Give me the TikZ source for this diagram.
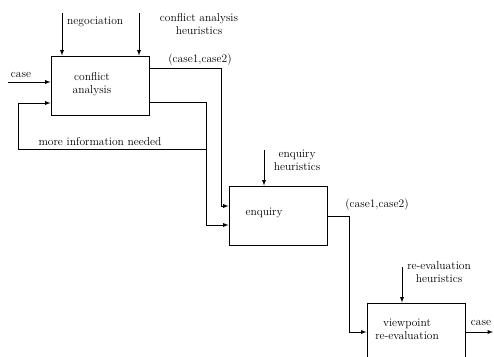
\documentclass[tikz,border=0pt]{standalone}
\usetikzlibrary{arrows}
\begin{document}
\begin{tikzpicture}[x=1pt,y=-1pt,>=latex]
\tikzstyle{every node}=[font=\fontsize{11.5}{13}\selectfont, inner sep=0pt, align=center]
\tikzstyle{proc}=[draw, line width=1pt, minimum width=98pt, minimum height=59pt]
\tikzstyle{flow}=[line width=.9pt, ->]
\useasboundingbox (0,0) rectangle (494,356);
% boxes
\draw (100,85.5) node (ca) [proc] {};
\draw (278,215.5) node (en) [proc] {};
\draw (416,332.5) node (re) [proc] {};
\draw (92,84) node (catxt) {conflict\\analysis};
\draw (264,213) node (entxt) {enquiry};
\draw (407,329) node (retxt) {viewpoint\\re-evaluation};
% corners
\coordinate (neg) at (62,13);
\coordinate (cah) at (139,13);
\coordinate (cin) at (8,82);
\coordinate (c1) at (221,68);
\coordinate (c2) at (221,206);
\coordinate (d1) at (206,102);
\coordinate (d2) at (206,225);
\coordinate (f1) at (206,149);
\coordinate (f2) at (18,149);
\coordinate (f3) at (18,103);
\coordinate (eh) at (264,150);
\coordinate (g1) at (349,216);
\coordinate (g2) at (349,332);
\coordinate (rh) at (402,267);
\coordinate (rout) at (493,332);
% conflict analysis
\draw[flow] (neg) -- (neg |- ca.north);
\draw[flow] (cah) -- (cah |- ca.north);
\draw[flow] (cin) -- (cin -| ca.west);
\draw (67,22) node (neglbl) [anchor=west] {negociation};
\draw (199,24) node (cahlbl) {conflict analysis\\heuristics};
\draw (21,75) node (cinlbl) {case};
\draw[flow] (ca.east |- c1) -- (c1) -- (c2) -- (c2 -| en.west);
\draw (200,60) node (o1lbl) {(case1,case2)};
\draw[flow] (ca.east |- d1) -- (d1) -- (d2) -- (d2 -| en.west);
\draw[flow] (f1) -- (f2) -- (f3) -- (f3 -| ca.west);
\draw (100,142) node (fblbl) {more information needed};
% enquiry
\draw[flow] (eh) -- (eh |- en.north);
\draw (297,160.5) node (ehlbl) {enquiry\\heuristics};
\draw[flow] (en.east |- g1) -- (g1) -- (g2) -- (g2 -| re.west);
\draw (377,205) node (o2lbl) {(case1,case2)};
% viewpoint re-evaluation
\draw[flow] (rh) -- (rh |- re.north);
\draw (439,272.5) node (rhlbl) {re-evaluation\\heuristics};
\draw[flow] (re.east |- rout) -- (rout);
\draw (481,323) node (routlbl) {case};
\end{tikzpicture}
\end{document}
